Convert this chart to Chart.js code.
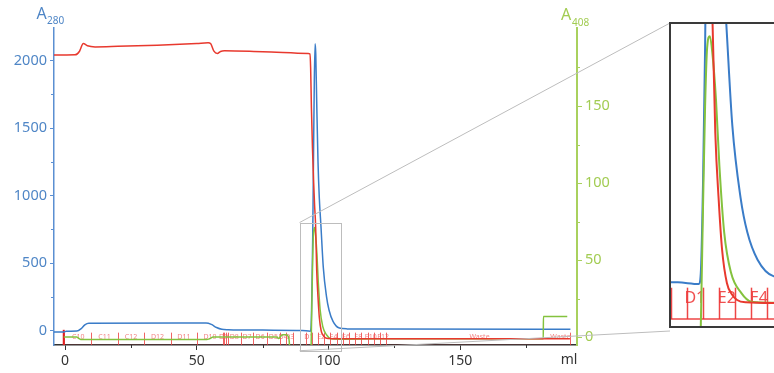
<!DOCTYPE html>
<html>
<head>
<meta charset="utf-8">
<script src="https://cdn.jsdelivr.net/npm/chart.js@4/dist/chart.umd.min.js"></script>
<style>
html, body { margin: 0; padding: 0; background: #fff; overflow: hidden; }
#wrap { position: relative; width: 774px; height: 373px; }
#wrap canvas { display: block; }
#inset { position: absolute; left: 669px; top: 22px; width: 107px; height: 302px; border: 2px solid #3a3a3a; background: #fff; }
</style>
</head>
<body>
<div id="wrap">
  <canvas id="js--chart" width="774" height="373"></canvas>
  <div id="inset"><canvas id="js--inset" width="107" height="302"></canvas></div>
</div>
<script>
// axis ticks
const mlTicks = [0, 50, 100, 150];
const mlMinor = [25, 75, 125, 175];
const a280Ticks = [0, 500, 1000, 1500, 2000];
const a280Minor = [250, 750, 1250, 1750];
const a408Ticks = [0, 50, 100, 150];
const a408Minor = [25, 75, 125, 175];

// A280 (blue)
const blueMl   = [-4.2, -0.4, 0.4, 4.5, 6, 7.5, 9, 53.5, 55.5, 57.5, 59.5, 62, 75, 90, 93.1, 93.4, 93.7, 94.0, 94.3, 94.6, 94.9, 95.15, 95.5, 96.0, 96.5, 97.1, 98.0, 99.2, 100.2, 101.7, 104.1, 107, 120, 191.8];
const blueA280 = [-11, -11, -6, -4, 12, 42, 54, 55, 45, 22, 9, 6, 3, 0, -5, 40, 300, 700, 1300, 1850, 2125, 2050, 1700, 1250, 980, 780, 470, 255, 150, 68, 18, 12, 11, 10];

// red trace (left axis)
const redMl  = [-4.2, 3.8, 5.5, 6.9, 8.5, 11.4, 20, 35, 50, 54.3, 55.3, 56.5, 57.8, 59, 60.5, 75, 92.3, 92.9, 93.2, 93.5, 93.9, 94.3, 94.7, 95.1, 95.5, 96.0, 96.5, 97.2, 97.9, 98.7, 100, 104, 191.6];
const redVal = [2041, 2043, 2070, 2127, 2110, 2102, 2106, 2115, 2127, 2132, 2125, 2070, 2053, 2068, 2073, 2066, 2053, 2050, 1950, 1650, 1350, 1120, 930, 775, 448, 247, 97, -2, -35, -53, -60, -62, -62];

// A408 (green)
const greenMl   = [-0.5, 4.4, 5.3, 6.3, 53.8, 55, 56.2, 80.3, 81.0, 81.8, 82.6, 84.0, 84.6, 85.1, 85.5, 93.2, 93.4, 93.7, 94.0, 94.3, 94.7, 95.1, 95.6, 96.1, 96.8, 97.8, 99.3, 100.8, 104.2, 120, 181.5, 181.55, 190.6];
const greenA408 = [0.2, 0.2, -0.8, -1.5, -1.5, -0.8, 0.2, 0.2, -0.8, 0.6, 1.7, 1.7, 0.8, -3, -20, -20, -5, 25, 52, 68, 71.2, 66, 54, 36, 18, 7, 1.5, -0.9, -1.2, -1, -1, 13.5, 13.5];

// fractions
const fracTicks = [-0.5, 10, 20, 30, 40.2, 50, 59.9, 60.5, 61.2, 61.8, 66.6, 71.5, 76.6, 81.5, 84.0, 86.6, 89.0, 91.3, 93.65, 96.0, 98.35, 100.7, 103.05, 105.4, 107.75, 110.1, 112.45, 114.8, 117.15, 119.5, 121.85, 191.6];
const fracNames = ["C10", "C11", "C12", "D12", "D11", "D10", "D9", "D8", "D7", "D6", "D5", "D4", "D3", "D1", "E2", "E4", "E6", "E8", "E10", "E12", "Waste", "Waste"];
const fracNamePos = [5, 15, 25, 35.1, 45.1, 55, 60.2, 64.2, 69.05, 74.05, 79.05, 82.75, 85.3, 92.5, 97.2, 101.9, 106.6, 111.3, 116, 120.7, 157.3, 188];
const injectMl = [-0.5];

// zoom window
const boxMl = [89, 104.7];
const boxA280 = [-150, 800];
const insetA280 = [-131, 775];
const insetA408 = [-7.5, 74.5];

Chart.defaults.font.family = '"Noto Sans", sans-serif';

function makeSets(lw) {
    return [
        { label: "red", data: redMl.map((v, i) => ({ x: v, y: redVal[i] })), borderColor: "#e8392e", yAxisID: "y" },
        { label: "A408", data: greenMl.map((v, i) => ({ x: v, y: greenA408[i] })), borderColor: "#84c23e", yAxisID: "y2" },
        { label: "A280", data: blueMl.map((v, i) => ({ x: v, y: blueA280[i] })), borderColor: "#3a7cc8", yAxisID: "y" }
    ].map(d => Object.assign(d, { borderWidth: lw, pointRadius: 0, fill: false, cubicInterpolationMode: "monotone" }));
}

const fractionPlugin = {
    id: "fractions",
    beforeDatasetsDraw(chart, args, opts) {
        const { ctx, chartArea: a, scales: { x, y } } = chart;
        ctx.save();
        ctx.beginPath();
        ctx.rect(a.left, a.top, a.width, a.height);
        ctx.clip();
        const top = y.getPixelForValue(-16), base = y.getPixelForValue(-110);
        ctx.strokeStyle = opts.color;
        ctx.lineWidth = opts.lineWidth;
        ctx.beginPath();
        ctx.moveTo(x.getPixelForValue(fracTicks[0]), base);
        ctx.lineTo(x.getPixelForValue(fracTicks[fracTicks.length - 1]), base);
        ctx.stroke();
        fracTicks.forEach(v => {
            const px = Math.round(x.getPixelForValue(v)) + 0.5;
            ctx.beginPath();
            ctx.moveTo(px, top);
            ctx.lineTo(px, base);
            ctx.stroke();
        });
        ctx.strokeStyle = "#e02020";
        ctx.lineWidth = 2;
        injectMl.forEach(v => {
            const px = x.getPixelForValue(v);
            ctx.beginPath();
            ctx.moveTo(px, y.getPixelForValue(5));
            ctx.lineTo(px, y.getPixelForValue(-130));
            ctx.stroke();
        });
        ctx.fillStyle = opts.labelColor;
        ctx.font = opts.fontSize + 'px "Noto Sans"';
        ctx.textAlign = "center";
        ctx.textBaseline = "middle";
        fracNames.forEach((t, i) => {
            ctx.fillText(t, x.getPixelForValue(fracNamePos[i]), y.getPixelForValue(-48));
        });
        ctx.restore();
    }
};

const framePlugin = {
    id: "frame",
    afterDraw(chart) {
        const { ctx, chartArea: a, scales: { x, y, y2 } } = chart;
        ctx.save();
        ctx.lineWidth = 1;
        ctx.strokeStyle = "#5b8fd2";
        a280Minor.forEach(v => {
            const p = Math.round(y.getPixelForValue(v)) + 0.5;
            ctx.beginPath(); ctx.moveTo(a.left - 3, p); ctx.lineTo(a.left, p); ctx.stroke();
        });
        ctx.strokeStyle = "#a9d15e";
        a408Minor.forEach(v => {
            const p = Math.round(y2.getPixelForValue(v)) + 0.5;
            ctx.beginPath(); ctx.moveTo(a.right, p); ctx.lineTo(a.right + 3, p); ctx.stroke();
        });
        ctx.strokeStyle = "#333";
        mlMinor.forEach(v => {
            const p = Math.round(x.getPixelForValue(v)) + 0.5;
            ctx.beginPath(); ctx.moveTo(p, a.bottom); ctx.lineTo(p, a.bottom + 3); ctx.stroke();
        });

        // axis titles
        ctx.textAlign = "left";
        ctx.textBaseline = "alphabetic";
        ctx.fillStyle = "#4f86c6";
        ctx.font = '16px "Noto Sans"';
        ctx.fillText("A", 36.5, 18.5);
        ctx.font = '10px "Noto Sans"';
        ctx.fillText("280", 47, 23.5);
        ctx.fillStyle = "#a2cc52";
        ctx.font = '16px "Noto Sans"';
        ctx.fillText("A", 561, 20);
        ctx.font = '10px "Noto Sans"';
        ctx.fillText("408", 572, 25.5);
        ctx.fillStyle = "#333";
        ctx.font = '14px "Noto Sans"';
        ctx.textAlign = "center";
        ctx.textBaseline = "middle";
        ctx.fillText("ml", 569, 360);

        // zoom box + connectors
        const bx0 = x.getPixelForValue(boxMl[0]), bx1 = x.getPixelForValue(boxMl[1]);
        const by0 = y.getPixelForValue(boxA280[1]), by1 = y.getPixelForValue(boxA280[0]);
        ctx.strokeStyle = "#bdbdbd";
        ctx.lineWidth = 1;
        ctx.strokeRect(Math.round(bx0) + 0.5, Math.round(by0) + 0.5, Math.round(bx1 - bx0), Math.round(by1 - by0));
        ctx.beginPath();
        ctx.moveTo(bx0, by0); ctx.lineTo(670, 23);
        ctx.moveTo(bx0, by1); ctx.lineTo(670, 331);
        ctx.stroke();
        ctx.restore();
    }
};

const mainChart = new Chart(document.getElementById("js--chart"), {
    type: "line",
    data: { datasets: makeSets(1.5) },
    plugins: [fractionPlugin, framePlugin],
    options: {
        responsive: false,
        animation: false,
        events: [],
        layout: { padding: { top: 28, left: 0, right: 0, bottom: 0 } },
        plugins: {
            legend: { display: false },
            tooltip: { enabled: false },
            fractions: { color: "rgba(236,60,60,0.8)", lineWidth: 1, labelColor: "rgba(240,100,100,0.8)", fontSize: 7 }
        },
        scales: {
            x: {
                type: "linear", min: -4.2, max: 194.3,
                afterFit: s => { s.height = 28; },
                afterBuildTicks: s => { s.ticks = mlTicks.map(v => ({ value: v })); },
                border: { color: "#333", width: 1.5 },
                grid: { drawOnChartArea: false, tickLength: 5, tickColor: "#333" },
                ticks: { color: "#333", font: { size: 14 }, padding: 3, maxRotation: 0, callback: v => String(v) }
            },
            y: {
                position: "left", min: -107.5, max: 2242,
                afterFit: s => { s.width = 54; },
                afterBuildTicks: s => { s.ticks = a280Ticks.map(v => ({ value: v })); },
                border: { color: "#5b8fd2", width: 1.5 },
                grid: { drawOnChartArea: false, tickLength: 4, tickColor: "#5b8fd2" },
                ticks: { color: "#4f86c6", font: { size: 14.5 }, padding: 3, callback: v => String(v) }
            },
            y2: {
                position: "right", min: -5, max: 200.6,
                afterFit: s => { s.width = 197; },
                afterBuildTicks: s => { s.ticks = a408Ticks.map(v => ({ value: v })); },
                border: { color: "#a9d15e", width: 2 },
                grid: { drawOnChartArea: false, tickLength: 5, tickColor: "#a9d15e" },
                ticks: { color: "#a2cc52", font: { size: 14.5 }, padding: 3, callback: v => String(v) }
            }
        }
    }
});

const insetChart = new Chart(document.getElementById("js--inset"), {
    type: "line",
    data: { datasets: makeSets(2) },
    plugins: [fractionPlugin],
    options: {
        responsive: false,
        animation: false,
        events: [],
        layout: { padding: 0 },
        plugins: {
            legend: { display: false },
            tooltip: { enabled: false },
            fractions: { color: "rgba(236,50,50,0.9)", lineWidth: 1.5, labelColor: "rgba(238,60,60,0.9)", fontSize: 16 }
        },
        scales: {
            x: { type: "linear", display: false, min: boxMl[0], max: boxMl[1] },
            y: { display: false, min: insetA280[0], max: insetA280[1] },
            y2: { display: false, position: "right", min: insetA408[0], max: insetA408[1] }
        }
    }
});
</script>
</body>
</html>
